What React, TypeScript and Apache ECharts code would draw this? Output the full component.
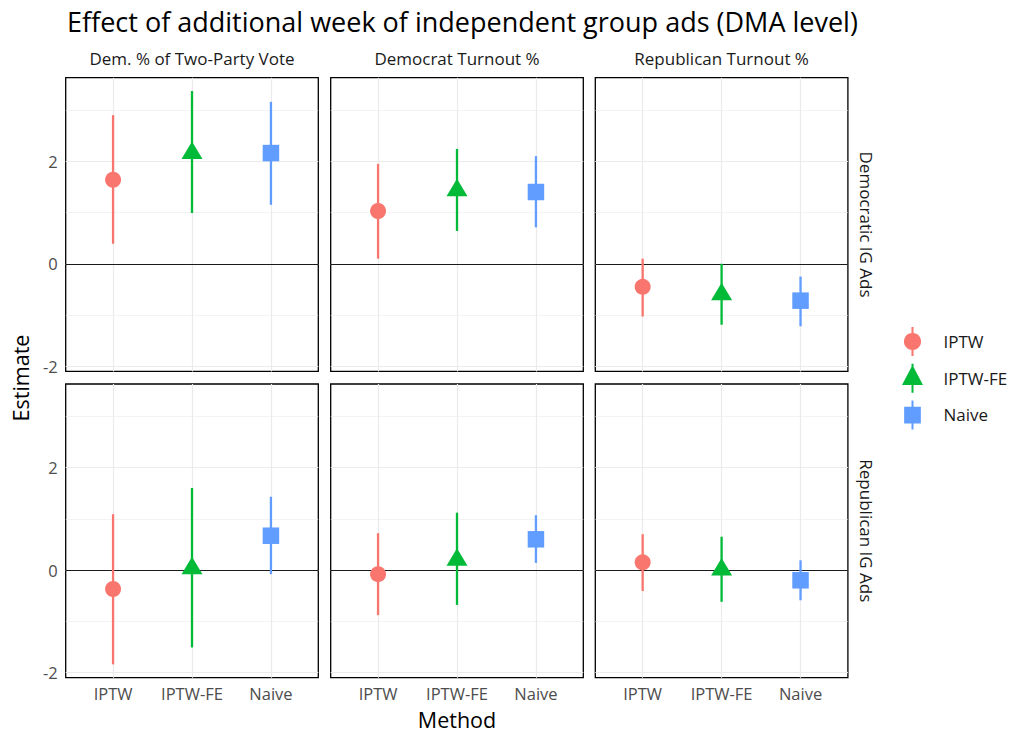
import React, { useEffect, useRef } from "react";
import * as echarts from "echarts";

const titleText = "Effect of additional week of independent group ads (DMA level)";
const outcomes = ["Dem. % of Two-Party Vote", "Democrat Turnout %", "Republican Turnout %"];
const adTypes = ["Democratic IG Ads", "Republican IG Ads"];
const methods = ["IPTW", "IPTW-FE", "Naive"];
const yTicks = [-2, 0, 2];
const yMinorTicks = [-1, 1, 3];

// [outcome][method]
const demAdsEstimate = [
  [1.64, 2.16, 2.16],
  [1.03, 1.43, 1.4],
  [-0.45, -0.6, -0.72],
];
const demAdsLower = [
  [0.39, 0.99, 1.15],
  [0.1, 0.64, 0.71],
  [-1.03, -1.19, -1.22],
];
const demAdsUpper = [
  [2.9, 3.37, 3.16],
  [1.95, 2.24, 2.1],
  [0.1, 0.0, -0.25],
];
const repAdsEstimate = [
  [-0.37, 0.03, 0.67],
  [-0.08, 0.2, 0.6],
  [0.15, 0.01, -0.2],
];
const repAdsLower = [
  [-1.84, -1.51, -0.08],
  [-0.88, -0.68, 0.14],
  [-0.41, -0.62, -0.59],
];
const repAdsUpper = [
  [1.09, 1.6, 1.43],
  [0.72, 1.12, 1.07],
  [0.7, 0.65, 0.19],
];

const colors = ["#F8766D", "#00BA38", "#619CFF"];
const FONT = "Open Sans";

export default function App() {
  const ref = useRef<HTMLDivElement>(null);
  useEffect(() => {
    if (!ref.current) return;
    const chart = echarts.init(ref.current, null, { renderer: "svg" });

    const est = [demAdsEstimate, repAdsEstimate];
    const low = [demAdsLower, repAdsLower];
    const high = [demAdsUpper, repAdsUpper];
    const all = [...low.flat(2), ...high.flat(2)];
    const dMin = Math.min(...all);
    const dMax = Math.max(...all);
    const pad = (dMax - dMin) * 0.05;
    const yMin = dMin - pad;
    const yMax = dMax + pad;

    const colLeft = [65.7, 330.7, 595.3];
    const panelW = 252.6;
    const rowTop = [77.7, 384];
    const panelH = 293.7;

    const grids: any[] = [];
    const xAxes: any[] = [];
    const yAxes: any[] = [];
    const series: any[] = [];

    const symbols = ["circle", "triangle", "rect"];
    const symbolSizes: any[] = [16, [21, 17.5], 16.5];
    const symbolOffsets: any[] = [[0, 0], [0, -2.9], [0, 0]];

    for (let r = 0; r < 2; r++) {
      for (let c = 0; c < 3; c++) {
        const gi = r * 3 + c;
        grids.push({
          left: colLeft[c],
          top: rowTop[r],
          width: panelW,
          height: panelH,
          show: true,
          borderColor: "#000",
          borderWidth: 1.3,
          backgroundColor: "#fff",
          containLabel: false,
        });
        xAxes.push({
          type: "value",
          gridIndex: gi,
          min: 0.4,
          max: 3.6,
          axisLine: { show: false },
          axisTick: { show: false },
          splitLine: { show: false },
          axisLabel: {
            show: r === 1,
            customValues: [1, 2, 3],
            formatter: (v: number) => methods[Math.round(v) - 1] ?? "",
            color: "#4d4d4d",
            fontSize: 16.5,
            fontFamily: FONT,
            margin: 7,
          },
        });
        yAxes.push({
          type: "value",
          gridIndex: gi,
          min: yMin,
          max: yMax,
          axisLine: { show: false },
          axisTick: { show: false },
          splitLine: { show: false },
          axisLabel: {
            show: c === 0,
            customValues: yTicks,
            color: "#4d4d4d",
            fontSize: 16.5,
            fontFamily: FONT,
            margin: 8,
          },
        });

        for (let m = 0; m < 3; m++) {
          series.push({
            type: "custom",
            name: methods[m],
            xAxisIndex: gi,
            yAxisIndex: gi,
            z: 3,
            itemStyle: { color: colors[m] },
            data: [[m + 1, low[r][c][m], high[r][c][m]]],
            encode: { x: 0, y: [1, 2] },
            renderItem: (_p: any, api: any) => {
              const p1 = api.coord([api.value(0), api.value(1)]);
              const p2 = api.coord([api.value(0), api.value(2)]);
              return {
                type: "line",
                shape: { x1: p1[0], y1: p1[1], x2: p2[0], y2: p2[1] },
                style: { stroke: colors[m], lineWidth: 2.3 },
              };
            },
          });
          const s: any = {
            type: "scatter",
            name: methods[m],
            xAxisIndex: gi,
            yAxisIndex: gi,
            z: 4,
            symbol: symbols[m],
            symbolSize: symbolSizes[m],
            symbolOffset: symbolOffsets[m],
            itemStyle: { color: colors[m], opacity: 1 },
            emphasis: { disabled: true },
            data: [[m + 1, est[r][c][m]]],
          };
          if (m === 0) {
            const ml: any[] = [];
            yMinorTicks.forEach((v) =>
              ml.push({ yAxis: v, lineStyle: { color: "#ebebeb", width: 0.6, type: "solid" } })
            );
            yTicks.forEach((v) =>
              ml.push({ yAxis: v, lineStyle: { color: "#ebebeb", width: 1.2, type: "solid" } })
            );
            [1, 2, 3].forEach((v) =>
              ml.push({ xAxis: v, lineStyle: { color: "#ebebeb", width: 1.2, type: "solid" } })
            );
            ml.push({ yAxis: 0, lineStyle: { color: "#1a1a1a", width: 1, type: "solid" } });
            s.markLine = {
              silent: true,
              z: 1,
              symbol: ["none", "none"],
              label: { show: false },
              emphasis: { disabled: true },
              animation: false,
              data: ml,
            };
          }
          series.push(s);
        }
      }
    }

    const icons = [
      "path://M9,0h2v28h-2zM10,5.7a8.3,8.3 0 1,1 -0.001,0z",
      "path://M9.5,0h2v29h-2zM10.5,1.3L21,21.3L0,21.3z",
      "path://M7.35,0h2v29h-2zM0,6.3h16.7v16.7h-16.7z",
    ];

    const graphics: any[] = [];
    outcomes.forEach((o, c) => {
      graphics.push({
        type: "text",
        x: colLeft[c] + panelW / 2,
        y: 58,
        style: {
          text: o,
          fill: "#1a1a1a",
          font: `17px '${FONT}'`,
          align: "center",
          verticalAlign: "middle",
        },
      });
    });
    adTypes.forEach((a, r) => {
      graphics.push({
        type: "text",
        x: 866,
        y: rowTop[r] + panelH / 2,
        rotation: -Math.PI / 2,
        style: {
          text: a,
          fill: "#1a1a1a",
          font: `17px '${FONT}'`,
          align: "center",
          verticalAlign: "middle",
        },
      });
    });
    graphics.push({
      type: "text",
      x: 20,
      y: 378,
      rotation: Math.PI / 2,
      style: { text: "Estimate", fill: "#000", font: `21.5px '${FONT}'`, align: "center", verticalAlign: "middle" },
    });
    graphics.push({
      type: "text",
      x: 457,
      y: 719,
      style: { text: "Method", fill: "#000", font: `21.5px '${FONT}'`, align: "center", verticalAlign: "middle" },
    });

    chart.setOption({
      animation: false,
      backgroundColor: "#fff",
      title: {
        text: titleText,
        left: 62,
        top: 3,
        textStyle: { fontSize: 27, fontWeight: "normal", color: "#000", fontFamily: FONT },
      },
      legend: {
        orient: "vertical",
        left: 897,
        top: 322,
        itemWidth: 52,
        itemHeight: 29,
        itemGap: 7.7,
        selectedMode: false,
        textStyle: { fontSize: 17, color: "#1a1a1a", fontFamily: FONT },
        data: methods.map((m, i) => ({ name: m, icon: icons[i], itemStyle: { color: colors[i] } })),
      },
      grid: grids,
      xAxis: xAxes,
      yAxis: yAxes,
      series,
      graphic: graphics,
    });
    return () => chart.dispose();
  }, []);
  return <div ref={ref} style={{ position: "fixed", left: 0, top: 0, width: 1016, height: 732 }} />;
}
